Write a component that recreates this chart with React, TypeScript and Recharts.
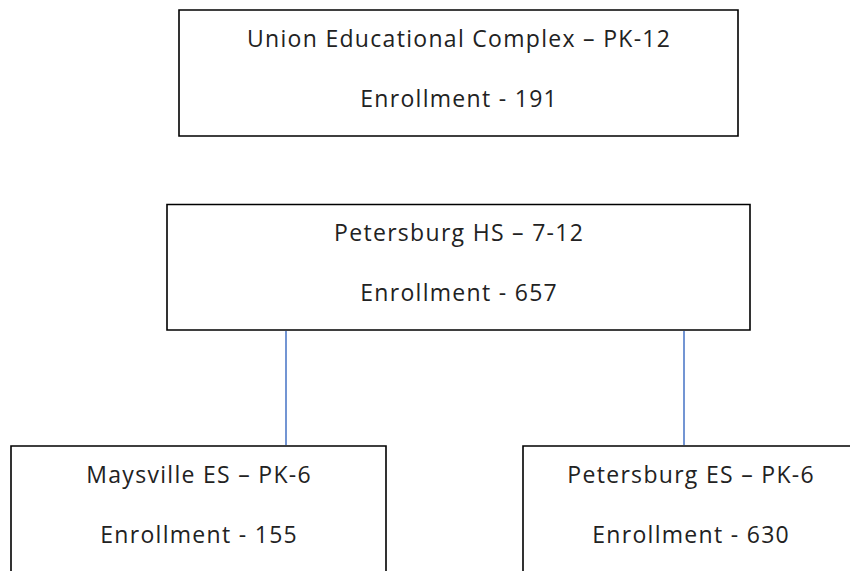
import React from "react";
import { ScatterChart, Scatter, XAxis, YAxis, ReferenceArea, ReferenceLine } from "recharts";

// ---- data ----
const schoolNames = ["Union Educational Complex", "Petersburg HS", "Maysville ES", "Petersburg ES"];
const gradeSpans = ["PK-12", "7-12", "PK-6", "PK-6"];
const enrollments = [191, 657, 155, 630];
const parentIndex: (number | null)[] = [null, null, 1, 1];

// ---- layout (pixel space of the 850x571 canvas) ----
const boxLayout = [
  { x1: 179, x2: 738, y1: 10, y2: 136 },
  { x1: 167, x2: 750, y1: 204.5, y2: 330 },
  { x1: 11, x2: 386, y1: 446, y2: 600 },
  { x1: 523, x2: 858, y1: 446, y2: 600 },
];
const connectorX: (number | null)[] = [null, null, 286, 684];

const W = 850;
const H = 571;
const FONT = "'Open Sans', 'Noto Sans', sans-serif";
const TEXT_COLOR = "#222222";
const FONT_SIZE = 23;
const LETTER_SPACING = 1.3;

const nodes = schoolNames.map((name, i) => ({
  x: (boxLayout[i].x1 + boxLayout[i].x2) / 2 + LETTER_SPACING / 2,
  y: boxLayout[i].y1,
  title: `${name} \u2013 ${gradeSpans[i]}`,
  sub: `Enrollment - ${enrollments[i]}`,
}));

const NodeLabel = (props: any) => {
  const { cx, cy, payload } = props;
  const common = {
    textAnchor: "middle" as const,
    fontFamily: FONT,
    fontSize: FONT_SIZE,
    fill: TEXT_COLOR,
    letterSpacing: LETTER_SPACING,
  };
  return (
    <g>
      <text x={cx} y={cy + 36.5} {...common}>
        {payload.title}
      </text>
      <text x={cx} y={cy + 96.5} {...common}>
        {payload.sub}
      </text>
    </g>
  );
};

export default function App() {
  return (
    <div style={{ position: "absolute", left: 0, top: 0, width: W, height: H, background: "#fff" }}>
      <ScatterChart width={W} height={H} margin={{ top: 0, right: 0, bottom: 0, left: 0 }}>
        <XAxis type="number" dataKey="x" domain={[0, W]} hide allowDataOverflow />
        <YAxis type="number" dataKey="y" domain={[0, H]} reversed hide allowDataOverflow width={0} />
        {boxLayout.map((b, i) => (
          <ReferenceArea
            key={`box-${i}`}
            x1={b.x1}
            x2={b.x2}
            y1={b.y1}
            y2={b.y2}
            ifOverflow="visible"
            fill="#ffffff"
            fillOpacity={0}
            stroke="#000000"
            strokeWidth={1.6}
          />
        ))}
        {parentIndex.map((p, i) =>
          p === null || connectorX[i] === null ? null : (
            <ReferenceLine
              key={`link-${i}`}
              segment={[
                { x: connectorX[i] as number, y: boxLayout[p].y2 + 1 },
                { x: connectorX[i] as number, y: boxLayout[i].y1 - 1 },
              ]}
              ifOverflow="visible"
              stroke="#4472C4"
              strokeWidth={1.5}
            />
          )
        )}
        <Scatter data={nodes} shape={NodeLabel} isAnimationActive={false} />
      </ScatterChart>
    </div>
  );
}
